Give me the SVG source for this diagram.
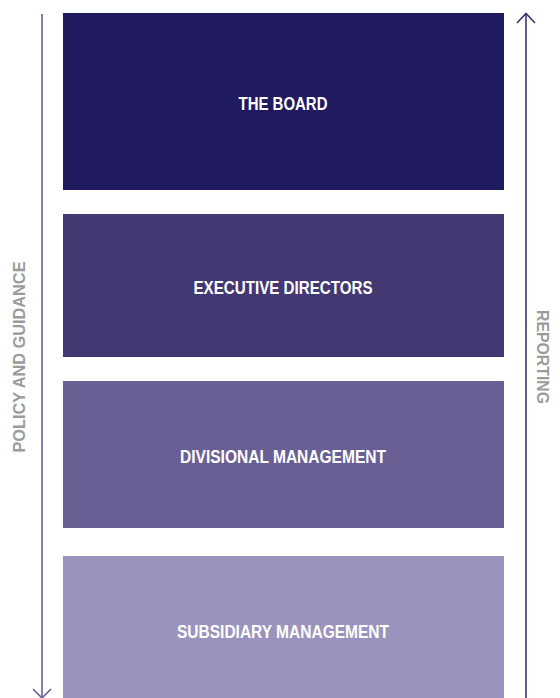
<svg xmlns="http://www.w3.org/2000/svg" width="560" height="698" viewBox="0 0 560 698">
  <style>
    .label { font-family: "Liberation Sans", Arial, sans-serif; font-weight: bold; font-size: 18.5px; fill: #ffffff; text-anchor: middle; }
    .side { font-family: "Liberation Sans", Arial, sans-serif; font-weight: bold; font-size: 17px; fill: #9b9b9b; text-anchor: middle; }
    .flow { fill: none; stroke-width: 1.6; }
  </style>
  <rect width="560" height="698" fill="#ffffff"/>

  <g id="connectors">
    <!-- downward: policy and guidance -->
    <g stroke="#6a5e96" class="flow">
      <line x1="42" y1="14" x2="42" y2="697"/>
      <polyline points="33,689 42,698 51,689"/>
    </g>
    <!-- upward: reporting -->
    <g stroke="#3b336f" class="flow">
      <line x1="526" y1="14" x2="526" y2="698"/>
      <polyline points="517,23 526,13.5 535,23"/>
    </g>
  </g>

  <g id="side-labels">
    <text class="side" transform="translate(25,357) rotate(-90)" textLength="191" lengthAdjust="spacingAndGlyphs">POLICY AND GUIDANCE</text>
    <text class="side" transform="translate(537,357) rotate(90)" textLength="94" lengthAdjust="spacingAndGlyphs">REPORTING</text>
  </g>

  <g id="the-board">
    <rect x="63" y="13" width="441" height="177" fill="#201a5f"/>
    <text class="label" x="283" y="109.5" textLength="89" lengthAdjust="spacingAndGlyphs">THE BOARD</text>
  </g>

  <g id="executive-directors">
    <rect x="63" y="214" width="441" height="143" fill="#443873"/>
    <text class="label" x="283" y="294" textLength="179" lengthAdjust="spacingAndGlyphs">EXECUTIVE DIRECTORS</text>
  </g>

  <g id="divisional-management">
    <rect x="63" y="381" width="441" height="147" fill="#6a5f94"/>
    <text class="label" x="283" y="463" textLength="206" lengthAdjust="spacingAndGlyphs">DIVISIONAL MANAGEMENT</text>
  </g>

  <g id="subsidiary-management">
    <rect x="63" y="556" width="441" height="142" fill="#9a93bd"/>
    <text class="label" x="283" y="638" textLength="212" lengthAdjust="spacingAndGlyphs">SUBSIDIARY MANAGEMENT</text>
  </g>
</svg>
